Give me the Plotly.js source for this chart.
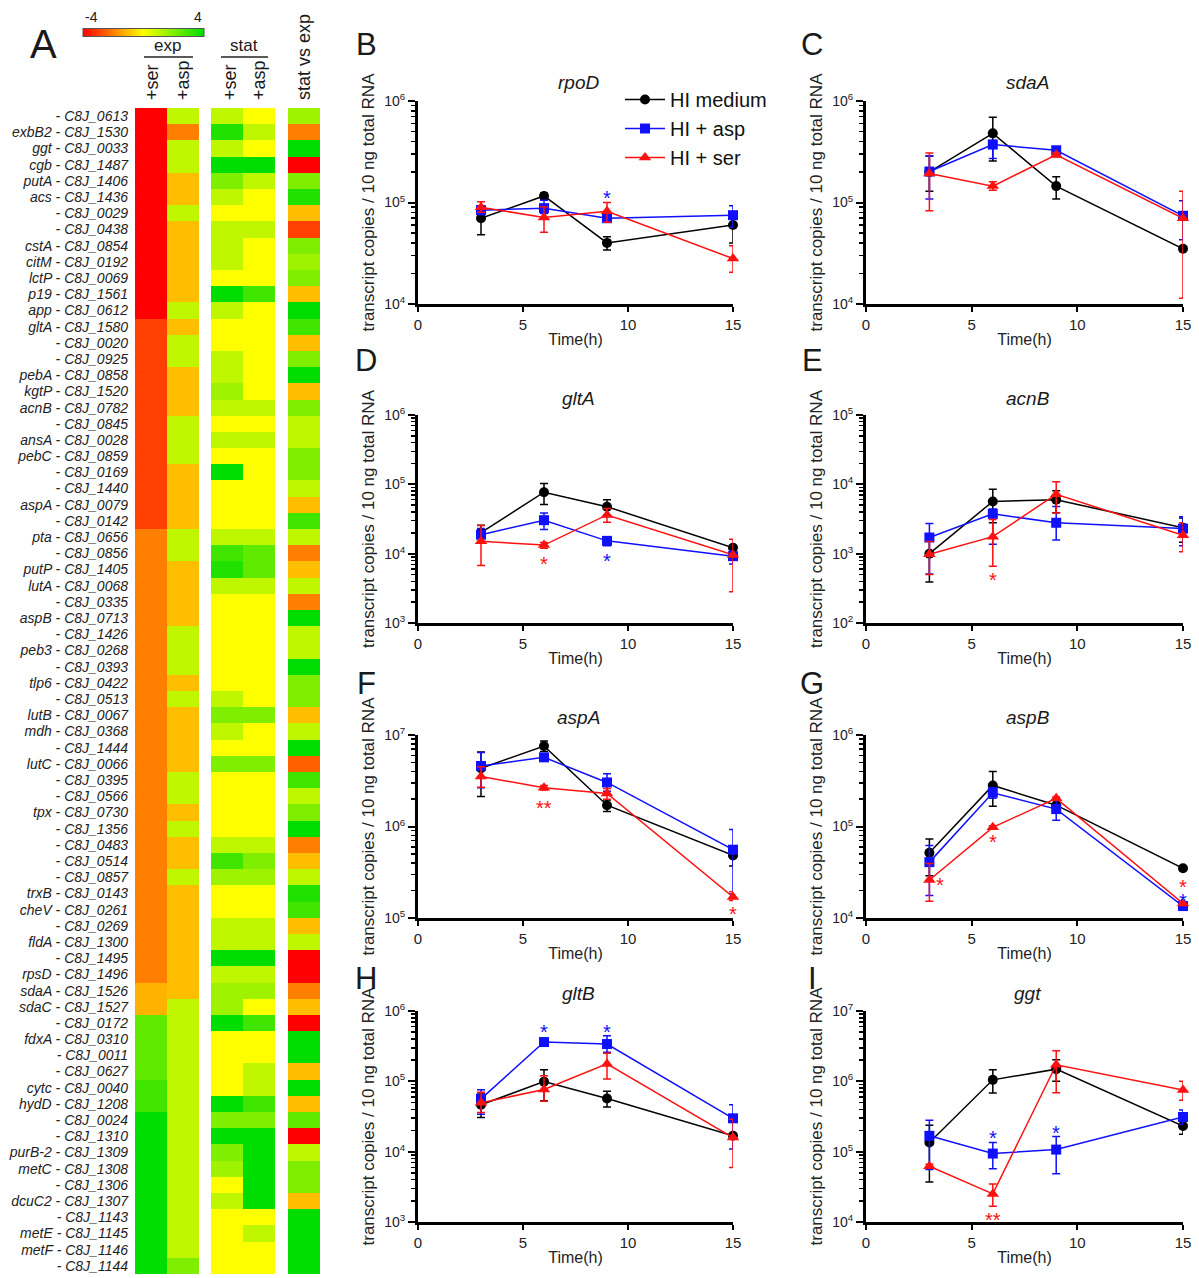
<!DOCTYPE html>
<html><head><meta charset="utf-8">
<script src="https://cdn.plot.ly/plotly-3.0.1.min.js"></script>
<style>html,body{margin:0;padding:0;background:#fff}#chart{width:1199px;height:1278px}</style>
</head><body><div id="chart"></div>
<script>
// ---------------- Heatmap data (panel A) ----------------
const genes = [
"- C8J_0613","exbB2 - C8J_1530","ggt - C8J_0033","cgb - C8J_1487","putA - C8J_1406","acs - C8J_1436",
"- C8J_0029","- C8J_0438","cstA - C8J_0854","citM - C8J_0192","lctP - C8J_0069","p19 - C8J_1561",
"app - C8J_0612","gltA - C8J_1580","- C8J_0020","- C8J_0925","pebA - C8J_0858","kgtP - C8J_1520",
"acnB - C8J_0782","- C8J_0845","ansA - C8J_0028","pebC - C8J_0859","- C8J_0169","- C8J_1440",
"aspA - C8J_0079","- C8J_0142","pta - C8J_0656","- C8J_0856","putP - C8J_1405","lutA - C8J_0068",
"- C8J_0335","aspB - C8J_0713","- C8J_1426","peb3 - C8J_0268","- C8J_0393","tlp6 - C8J_0422",
"- C8J_0513","lutB - C8J_0067","mdh - C8J_0368","- C8J_1444","lutC - C8J_0066","- C8J_0395",
"- C8J_0566","tpx - C8J_0730","- C8J_1356","- C8J_0483","- C8J_0514","- C8J_0857",
"trxB - C8J_0143","cheV - C8J_0261","- C8J_0269","fldA - C8J_1300","- C8J_1495","rpsD - C8J_1496",
"sdaA - C8J_1526","sdaC - C8J_1527","- C8J_0172","fdxA - C8J_0310","- C8J_0011","- C8J_0627",
"cytc - C8J_0040","hydD - C8J_1208","- C8J_0024","- C8J_1310","purB-2 - C8J_1309","metC - C8J_1308",
"- C8J_1306","dcuC2 - C8J_1307","- C8J_1143","metE - C8J_1145","metF - C8J_1146","- C8J_1144"];
const expSer = [-4,-4,-4,-4,-4,-4,-4,-4,-4,-4,-4,-4,-4,
 -3,-3,-3,-3,-3,-3,-3,-3,-3,-3,-3,-3,-3,
 -2,-2,-2,-2,-2,-2,-2,-2,-2,-2,-2,-2,-2,-2,-2,-2,-2,-2,-2,-2,-2,-2,-2,-2,-2,-2,-2,-2,
 -1.2,-1.2, 2.5,2.5,2.5,2.5, 3,3, 4,4,4,4,4,4,4,4,4,4];
const expAsp = [1,-2,1,1,-1,-1,1,-1,-1,-1,-1,-1,1,-1,1,1,-1,-1,-1,1,1,1,-1,-1,-1,-1,
 1,1,-1,-1,-1,-1,1,1,1,-1,1,-1,-1,-1,-1,1,1,-1,1,-1,-1,1,-1,-1,-1,-1,-1,-1,-1,1,
 1,1,1,1,1,1,1,1,1,1,1,1,1,1,1,2];
const statSer = [1,3.5,1,4,2,1,0,1,1,1,0,4,1,0,0,1,1,1.5,1,0,1,0,4,0,0,0,
 1,3,3.5,1,0,0,0,0,0,0,1,2,1,0,2,0,0,0,0,1,3,1.5,0,0,1,1,4,1,1.5,1.5,
 4,0,0,0,0,4,2,4,2,1.5,0,1,0,0,0,0];
const statAsp = [0,1,0,4,1,0,0,1,0,0,0,3,0,0,0,0,0,0,1,0,1,0,0,0,0,0,
 1,2.5,2.5,1,0,0,0,0,0,0,0,2,0,0,2,0,0,0,0,1,2,1.5,0,0,1,1,4,1,1.5,0,
 3,0,0,1,1,3,2,4,4,4,4,4,0,1,0,0];
const statVsExp = [1.5,-2,4,-4,2,3.5,-1,-3,2,1.5,2,-1,4,3,-1,2,4,-1,2,1,1,2,2,1,-1,3,
 1,-2,-1,1,-2,4,1,1,4,2,2,-1,1,4,-2.5,3,1,2,4,-2,-1,1,3.5,3,-1,1,-4,-4,-2,-1,
 -4,4,4,-1,4,-1,2.5,-4,1,2,2,-1,4,4,4,4];
const colLabelsExp = ["+ser","+asp"];
const colLabelsStat = ["+ser","+asp"];
const colLabelsSvE = ["stat vs exp"];
const scaleLimits = [-4, 4];

// ---------------- Time-course data (panels B-I) ----------------
const times = [3, 6, 9, 15];
const seriesNames = ["HI medium", "HI + asp", "HI + ser"];
const geneTitles = ["rpoD","sdaA","gltA","acnB","aspA","aspB","gltB","ggt"];
const panelLetters = ["B","C","D","E","F","G","H","I"];
const yDecades = [[4,6],[4,6],[3,6],[2,5],[5,7],[4,6],[3,6],[4,7]];
// [HI, asp, ser] rows; means, upper bar ends, lower bar ends
const rpoD_mean = [[7.0e4,1.16e5,4.0e4,6.0e4],[8.4e4,8.8e4,7.0e4,7.5e4],[9.0e4,7.1e4,8.2e4,2.8e4]];
const rpoD_up   = [[9.2e4,1.24e5,4.6e4,8.0e4],[9.2e4,1.05e5,7.6e4,9.3e4],[1.02e5,9.1e4,1.0e5,3.75e4]];
const rpoD_lo   = [[4.8e4,1.08e5,3.4e4,4.0e4],[7.6e4,7.8e4,6.4e4,5.7e4],[8.0e4,5.1e4,6.4e4,2.05e4]];
const sdaA_mean = [[2.0e5,4.8e5,1.45e5,3.5e4],[2.02e5,3.72e5,3.27e5,7.4e4],[1.93e5,1.45e5,2.95e5,7.0e4]];
const sdaA_up   = [[2.87e5,6.9e5,1.79e5,3.7e4],[2.87e5,4.1e5,3.45e5,1.04e5],[3.08e5,1.6e5,3.1e5,1.29e5]];
const sdaA_lo   = [[1.29e5,2.57e5,1.08e5,3.3e4],[1.08e5,2.72e5,3.1e5,4.3e4],[8.3e4,1.32e5,2.8e5,1.14e4]];
const gltA_mean = [[2.01e4,7.7e4,4.76e4,1.22e4],[1.88e4,3.04e4,1.53e4,9.2e3],[1.51e4,1.33e4,3.62e4,9.6e3]];
const gltA_up   = [[2.58e4,1.03e5,6.0e4,1.3e4],[2.3e4,3.87e4,1.75e4,1.1e4],[2.55e4,1.45e4,4.5e4,1.62e4]];
const gltA_lo   = [[1.5e4,5.1e4,3.6e4,1.14e4],[1.45e4,2.24e4,1.3e4,7.1e3],[6.75e3,1.2e4,2.85e4,2.82e3]];
const acnB_mean = [[1.0e3,5.67e3,5.98e3,2.37e3],[1.71e3,3.75e3,2.79e3,2.3e3],[9.8e2,1.76e3,7.2e3,1.84e3]];
const acnB_up   = [[1.61e3,8.5e3,8.1e3,3.28e3],[2.73e3,4.4e3,4.8e3,3.4e3],[1.5e3,3.1e3,1.09e4,2.8e3]];
const acnB_lo   = [[3.9e2,2.8e3,3.9e3,1.46e3],[5.1e2,1.37e3,1.58e3,1.3e3],[5.0e2,6.6e2,3.87e3,1.07e3]];
const aspA_mean = [[4.33e6,7.58e6,1.71e6,4.83e5],[4.59e6,5.7e6,3.03e6,5.58e5],[3.52e6,2.65e6,2.3e6,1.7e5]];
const aspA_up   = [[6.5e6,8.6e6,1.95e6,6.0e5],[6.45e6,6.1e6,3.76e6,9.3e5],[4.5e6,2.8e6,2.6e6,1.93e5]];
const aspA_lo   = [[2.13e6,6.6e6,1.46e6,3.7e5],[2.65e6,5.3e6,2.43e6,1.83e5],[2.69e6,2.5e6,1.98e6,1.55e5]];
const aspB_mean = [[5.16e4,2.81e5,1.71e5,3.5e4],[4.08e4,2.34e5,1.55e5,1.35e4],[2.6e4,9.8e4,2.03e5,1.44e4]];
const aspB_up   = [[7.3e4,3.98e5,1.8e5,3.6e4],[6.2e4,2.65e5,1.95e5,1.42e4],[3.93e4,1.02e5,2.1e5,1.5e4]];
const aspB_lo   = [[2.9e4,1.66e5,1.62e5,3.4e4],[1.76e4,2.03e5,1.17e5,1.28e4],[1.52e4,9.4e4,1.96e5,1.38e4]];
const gltB_mean = [[4.64e4,9.9e4,5.7e4,1.68e4],[5.64e4,3.62e5,3.39e5,2.98e4],[4.95e4,7.64e4,1.77e5,1.59e4]];
const gltB_up   = [[6.8e4,1.46e5,7.2e4,1.8e4],[7.6e4,3.8e5,4.45e5,4.65e4],[7.0e4,1.2e5,2.5e5,2.9e4]];
const gltB_lo   = [[3.05e4,5.3e4,4.3e4,1.56e4],[3.4e4,3.44e5,2.6e5,1.09e4],[3.6e4,5.2e4,1.08e5,5.97e3]];
const ggt_mean  = [[1.35e5,1.05e6,1.49e6,2.32e5],[1.68e5,9.4e4,1.07e5,3.11e5],[6.2e4,2.51e4,1.72e6,7.5e5]];
const ggt_up    = [[2.37e5,1.46e6,2.02e6,2.9e5],[2.8e5,1.35e5,1.64e5,3.9e5],[6.6e4,3.47e4,2.73e6,1.0e6]];
const ggt_lo    = [[3.7e4,6.85e5,1.0e6,1.77e5],[5.6e4,5.7e4,4.85e4,2.45e5],[5.8e4,1.68e4,6.9e5,5.4e5]];
// significance marks: [panel index, time, value, text, series index]
const sigMarks = [
 [0,9,1.24e5,"*",1],
 [2,6,8.3e3,"*",2],[2,9,9.2e3,"*",1],
 [3,6,5.0e2,"*",2],
 [4,6,1.8e6,"**",2],[4,15,1.27e5,"*",2],
 [5,3.5,2.6e4,"*",2],[5,6,7.6e4,"*",2],[5,15,2.45e4,"*",2],[5,15,1.75e4,"*",1],
 [6,6,5.9e5,"*",1],[6,9,5.9e5,"*",1],
 [7,6,1.87e5,"*",1],[7,9,2.2e5,"*",1],[7,6,1.27e4,"**",2]
];

const means = [rpoD_mean,sdaA_mean,gltA_mean,acnB_mean,aspA_mean,aspB_mean,gltB_mean,ggt_mean];
const ups   = [rpoD_up,sdaA_up,gltA_up,acnB_up,aspA_up,aspB_up,gltB_up,ggt_up];
const los   = [rpoD_lo,sdaA_lo,gltA_lo,acnB_lo,aspA_lo,aspB_lo,gltB_lo,ggt_lo];

// ---------------- styling / layout ----------------
const W = 1199, H = 1278;
const px = v => v / W, py = v => 1 - v / H;
const colors = ["#000000", "#1010ff", "#ff1010"];
const symbols = ["circle", "square", "triangle-up"];
const FONT = "Liberation Sans, Arial, sans-serif";
const colX = [[418, 733], [866, 1183]];
const rowY = [[101, 304], [415, 623], [735, 918], [1011, 1222]];
const letterY = [44, 360, 684, 978];
const titleY = [82, 398, 717, 993];
const sup = {2:"10<sup>2</sup>",3:"10<sup>3</sup>",4:"10<sup>4</sup>",5:"10<sup>5</sup>",6:"10<sup>6</sup>",7:"10<sup>7</sup>"};

const data = [];
const layout = {
  width: W, height: H, margin: {l:0, r:0, t:0, b:0},
  paper_bgcolor: "#fff", plot_bgcolor: "rgba(0,0,0,0)",
  font: {family: FONT, color: "#111"},
  showlegend: true,
  legend: {x: px(620), y: py(80), xanchor: "left", yanchor: "top", bgcolor: "rgba(0,0,0,0)",
           font: {size: 20, color: "#111"}, tracegroupgap: 0, itemwidth: 40},
  annotations: [], shapes: []
};
const ann = layout.annotations;
function paperText(text, x, y, size, extra) {
  ann.push(Object.assign({text, x: px(x), y: py(y), xref: "paper", yref: "paper", xanchor: "center", yanchor: "middle",
    showarrow: false, font: {size, color: "#1a1a1a"}}, extra || {}));
}

const colorscale = [[0, "#ff0000"], [0.5, "#ffff00"], [1, "#00dd00"]];

// heatmap traces
const zExp = genes.map((g, i) => [expSer[i], expAsp[i]]);
const zStat = genes.map((g, i) => [statSer[i], statAsp[i]]);
const zSvE = genes.map((g, i) => [statVsExp[i]]);
const hmBase = {type: "heatmap", y: genes, colorscale, zmin: scaleLimits[0], zmax: scaleLimits[1], hoverinfo: "skip", showlegend: false};
data.push(Object.assign({}, hmBase, {z: zExp, x: colLabelsExp, xaxis: "x9", yaxis: "y9", showscale: true,
  colorbar: {orientation: "h", x: px(143.5), xanchor: "center", y: py(33.5), yanchor: "middle",
    len: 121, lenmode: "pixels", thickness: 8, thicknessmode: "pixels", xpad: 0, ypad: 0,
    showticklabels: false, ticks: "", outlinewidth: 1, outlinecolor: "#555"}}));
data.push(Object.assign({}, hmBase, {z: zStat, x: colLabelsStat.map(c => "stat " + c), xaxis: "x10", yaxis: "y9", showscale: false}));
data.push(Object.assign({}, hmBase, {z: zSvE, x: colLabelsSvE, xaxis: "x11", yaxis: "y9", showscale: false}));

const hmX = {x9: [135, 199], x10: [211, 275], x11: [288, 320]};
for (const k of ["x9", "x10", "x11"]) {
  layout["xaxis" + k.slice(1)] = {domain: [px(hmX[k][0]), px(hmX[k][1])], anchor: "y9",
    showticklabels: false, showgrid: false, zeroline: false, showline: false, ticks: ""};
}
layout.yaxis9 = {domain: [py(1274), py(108)], anchor: "x9", autorange: "reversed", type: "category",
  tickmode: "array", tickvals: genes, ticktext: genes,
  showgrid: false, zeroline: false, showline: false, ticks: "", ticklabelstandoff: 6,
  tickfont: {size: 14, style: "italic", color: "#222", family: FONT}};

// colour scale labels and heatmap headers
paperText(String(scaleLimits[0]), 83, 17, 14, {xanchor: "left"});
paperText(String(scaleLimits[1]), 204, 17, 14, {xanchor: "right"});
paperText("A", 43, 44, 40);
paperText("exp", 168, 46, 17);
paperText("stat", 244, 46, 17);
const rotLabels = [[152, colLabelsExp[0]], [183, colLabelsExp[1]], [230, colLabelsStat[0]], [259, colLabelsStat[1]], [304, colLabelsSvE[0]]];
for (const [xx, t] of rotLabels) {
  paperText(t, xx, 102, 18, {yanchor: "bottom", textangle: -90});
}
layout.shapes.push({type: "line", xref: "paper", yref: "paper", x0: px(144), x1: px(193), y0: py(57), y1: py(57), line: {color: "#222", width: 1.5}});
layout.shapes.push({type: "line", xref: "paper", yref: "paper", x0: px(221), x1: px(268), y0: py(57), y1: py(57), line: {color: "#222", width: 1.5}});

// line panels
for (let p = 0; p < 8; p++) {
  const col = p % 2, row = Math.floor(p / 2);
  const n = p + 1;
  const xa = n === 1 ? "x" : "x" + n, ya = n === 1 ? "y" : "y" + n;
  const xd = colX[col], yd = rowY[row];
  const dec = yDecades[p];
  const tv = [], tt = [];
  for (let d = dec[0]; d <= dec[1]; d++) { tv.push(Math.pow(10, d)); tt.push(sup[d]); }
  layout["xaxis" + (n === 1 ? "" : n)] = {domain: [px(xd[0]), px(xd[1])], anchor: ya, range: [0, 15],
    tickvals: [0, 5, 10, 15], ticks: "outside", ticklen: 5, tickwidth: 2, tickcolor: "#000",
    showline: true, linewidth: 3, linecolor: "#000", showgrid: false, zeroline: false,
    tickfont: {size: 15, color: "#222"},
    title: {text: "Time(h)", font: {size: 16, color: "#222"}, standoff: 2}};
  layout["yaxis" + (n === 1 ? "" : n)] = {domain: [py(yd[1]), py(yd[0])], anchor: xa, type: "log",
    range: dec, tickvals: tv, ticktext: tt, ticks: "outside", ticklen: 7, tickwidth: 2, tickcolor: "#000",
    showline: true, linewidth: 3, linecolor: "#000", showgrid: false, zeroline: false,
    minor: {ticks: "outside", ticklen: 4, tickwidth: 1.5, tickcolor: "#000", dtick: "D1", showgrid: false},
    tickfont: {size: 14, color: "#222"},
    title: {text: "transcript copies / 10 ng total RNA", font: {size: 17, color: "#222"}, standoff: 6}};
  for (let s = 0; s < 3; s++) {
    const m = means[p][s], u = ups[p][s], l = los[p][s];
    data.push({type: "scatter", mode: "lines+markers", x: times, y: m, xaxis: xa, yaxis: ya,
      name: seriesNames[s], showlegend: p === 0, cliponaxis: false,
      line: {color: colors[s], width: 1.5},
      marker: {symbol: symbols[s], size: s === 2 ? 11 : 10, color: colors[s]},
      error_y: {type: "data", symmetric: false, array: u.map((v, i) => v - m[i]),
        arrayminus: m.map((v, i) => v - l[i]), color: colors[s], thickness: 1.5, width: 4},
      hoverinfo: "x+y"});
  }
  paperText(panelLetters[p], col === 0 ? 366 : 812, letterY[row], 31);
  paperText("<i>" + geneTitles[p] + "</i>", (xd[0] + xd[1]) / 2 + 3, titleY[row], 19);
}
for (const [p, t, v, txt, s] of sigMarks) {
  const n = p + 1;
  ann.push({text: txt, x: t, y: Math.log10(v), xref: n === 1 ? "x" : "x" + n, yref: n === 1 ? "y" : "y" + n,
    xanchor: "center", yanchor: "middle", showarrow: false, yshift: -5, font: {size: 20, color: colors[s]}});
}

Plotly.newPlot("chart", data, layout, {displayModeBar: false, staticPlot: true});
</script></body></html>
